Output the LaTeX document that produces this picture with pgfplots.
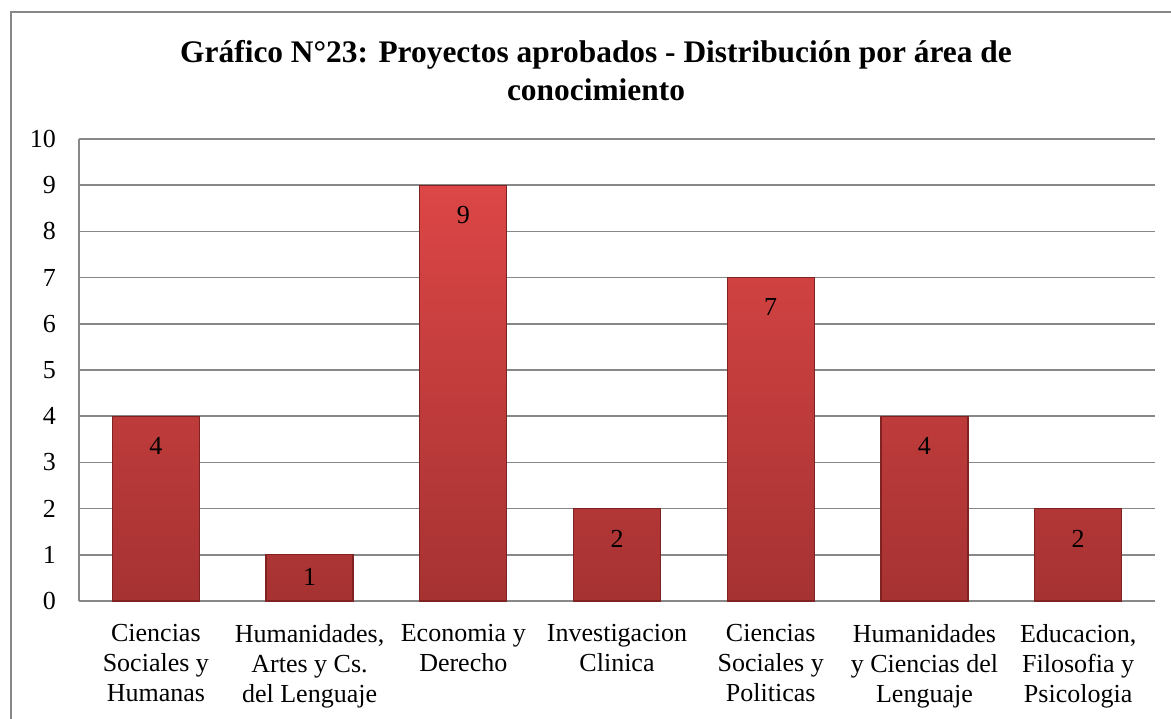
\documentclass[border=0pt]{standalone}
\usepackage{pgfplots}
\pgfplotsset{compat=1.18}
\usepackage{fontspec}
\setmainfont{Liberation Serif}
\definecolor{gridgray}{HTML}{888888}
\definecolor{bartop}{HTML}{DC4646}
\definecolor{barbot}{HTML}{A63232}
\definecolor{baredge}{HTML}{7E2222}
\begin{document}
\begin{tikzpicture}
\clip (-39.5pt,-58.5pt) rectangle (546pt,300.5pt);
\begin{axis}[
  scale only axis,
  width=538pt, height=231pt,
  at={(0,0)}, anchor=south west,
  xmin=-0.5, xmax=6.5,
  ymin=0, ymax=10,
  ytick={0,1,...,10},
  xtick={0,1,2,3,4,5,6},
  xticklabels={{Ciencias\\Sociales y\\Humanas},{Humanidades,\\Artes y Cs.\\del Lenguaje},{Economia y\\Derecho},{Investigacion\\Clinica},{Ciencias\\Sociales y\\Politicas},{Humanidades\\y Ciencias del\\Lenguaje},{Educacion,\\Filosofia y\\Psicologia}},
  xticklabel style={align=center, font=\fontsize{13}{15}\selectfont, anchor=north, yshift=-8pt},
  yticklabel style={font=\fontsize{13}{15}\selectfont, anchor=east, xshift=-8pt},
  /pgf/number format/assume math mode=true,
  major tick length=0pt,
  ymajorgrids,
  grid style={gridgray, line width=0.75pt},
  axis x line*=bottom,
  axis y line*=left,
  axis line style={gridgray, line width=0.9pt},
  x axis line style={-},
  y axis line style={-},
  ybar,
  bar width=0.566,
  visualization depends on={y \as \rawy},
  nodes near coords,
  nodes near coords style={font=\fontsize{13}{15}\selectfont, anchor=north, black},
  every node near coord/.append style={yshift={ifthenelse(\rawy<1.5,-3,-7)}},
]
\addplot[draw=baredge, line width=0.6pt, top color=bartop, bottom color=barbot]
  coordinates {(0,4) (1,1) (2,9) (3,2) (4,7) (5,4) (6,2)};
\end{axis}
\draw[gridgray, line width=1pt] (-34pt,-80pt) -- (-34pt,294.5pt) -- (600pt,294.5pt);
\node[font=\bfseries\fontsize{15.7}{19}\selectfont, align=center] at (258.5pt,265pt)
  {Gráfico N°23: Proyectos aprobados - Distribución por área de\\conocimiento};
\end{tikzpicture}
\end{document}
